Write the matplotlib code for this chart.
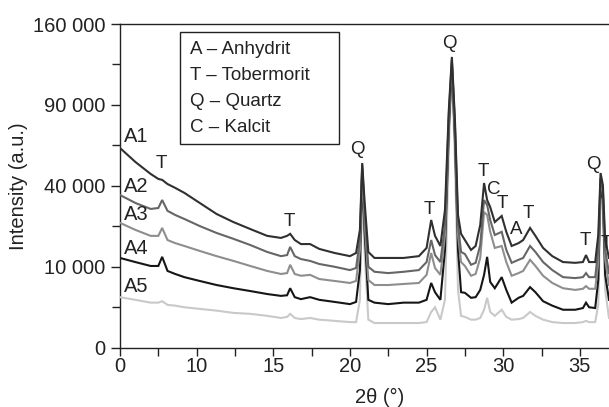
import numpy as np
import matplotlib
matplotlib.use("Agg")
import matplotlib.pyplot as plt
from matplotlib.patches import Rectangle

plt.rcParams['font.family'] = ['Liberation Sans', 'DejaVu Sans']

# 2theta grid (deg) shared by all patterns
two_theta = [5.0, 6.0, 7.0, 7.5, 7.75, 8.1, 8.6, 9.2, 10.2, 11.3, 12.4, 13.5, 14.6,
             15.5, 15.9, 16.1, 16.4, 16.8, 17.4, 18.0, 19.0, 20.0, 20.4, 20.65, 20.8,
             20.95, 21.2, 21.6, 22.5, 23.5, 24.5, 25.0, 25.3, 25.55, 25.9, 26.2, 26.45,
             26.65, 26.85, 27.05, 27.25, 27.5, 27.9, 28.2, 28.5, 28.75, 28.95, 29.15,
             29.45, 29.9, 30.2, 30.55, 31.0, 31.3, 31.75, 32.1, 32.6, 33.2, 33.9, 34.7,
             35.2, 35.4, 35.6, 36.0, 36.2, 36.35, 36.5, 36.65, 36.9]

A1 = [60900, 52700, 46100, 43500, 43000, 40900, 39000, 36600, 32000, 27300, 24100, 21500,
      19100, 18400, 19100, 19800, 17700, 16400, 16400, 14900, 13700, 12800, 13700, 21200,
      52100, 33300, 14000, 12300, 12300, 12300, 12800, 15200, 24900, 19100, 15800, 29000,
      86300, 129100, 79200, 26900, 19800, 17700, 14600, 15800, 23000, 41400, 33300, 30200,
      24100, 26500, 20500, 15800, 16700, 17700, 21900, 19100, 15200, 12800, 11200, 11000,
      11200, 13100, 11200, 11200, 19400, 46600, 40400, 17700, 12300]

A2 = [35600, 32000, 29400, 29800, 33300, 28600, 26900, 25300, 22600, 20100, 18100, 16100,
      14000, 12800, 13100, 15500, 12800, 12000, 11500, 10700, 10000, 9200, 9700, 17700,
      51000, 29000, 10000, 8800, 8500, 8800, 9200, 11200, 17700, 13100, 11200, 23000,
      82700, 126500, 75800, 23000, 14000, 13400, 10500, 11000, 16100, 33300, 31100, 24900,
      19400, 20500, 14600, 11000, 11800, 12300, 15800, 14000, 11200, 9200, 7600, 7400,
      7600, 8500, 7600, 7600, 14600, 44000, 38000, 14600, 8500]

A3 = [23800, 21200, 19100, 19100, 21900, 17700, 16700, 15800, 14300, 12800, 11500, 10200,
      9000, 8300, 8500, 10500, 8300, 7900, 8100, 7200, 6800, 6400, 6800, 14600,
      49300, 24900, 7000, 6000, 6000, 6200, 6400, 8100, 13700, 9700, 8100, 19400,
      79200, 124700, 72400, 19400, 11200, 10200, 7900, 8300, 12300, 28100, 26900, 20500,
      15200, 15800, 11200, 7900, 8500, 9000, 11800, 10200, 7900, 6400, 5400, 5100,
      5300, 5800, 5300, 5300, 11200, 43000, 37000, 11800, 6000]

A4 = [12300, 11200, 10200, 10200, 12600, 9000, 8300, 7600, 6800, 6000, 5400, 4900,
      4400, 4100, 4200, 5400, 3900, 3600, 3900, 3500, 3200, 2900, 3200, 9200,
      48200, 21200, 3500, 3100, 2900, 3100, 3100, 3500, 6400, 4700, 3500, 14600,
      72400, 122100, 65900, 14600, 4700, 4600, 3800, 3900, 5100, 8100, 12600, 6600,
      5400, 7600, 5100, 3100, 3800, 4100, 5600, 4700, 3300, 2700, 2200, 2200,
      2400, 3100, 2500, 2400, 7000, 40400, 33300, 8100, 3500]

A5 = [3900, 3500, 3100, 3100, 3300, 2800, 2700, 2500, 2300, 2100, 1850, 1750,
      1550, 1350, 1450, 1750, 1350, 1250, 1350, 1200, 1100, 1000, 1000, 3500,
      40400, 14600, 1200, 930, 930, 930, 930, 1000, 1950, 2500, 1200, 3500,
      59700, 117800, 53800, 5100, 1550, 1450, 1200, 1200, 1350, 2200, 3800, 1950,
      1550, 2200, 1450, 1200, 1250, 1350, 1950, 1550, 1200, 1000, 930, 930,
      1000, 1100, 1000, 1000, 2800, 33300, 29000, 5100, 1350]

series_names = ["A1", "A2", "A3", "A4", "A5"]
series = [A1, A2, A3, A4, A5]
series_colors = ["#303030", "#666666", "#8e8e8e", "#161616", "#c9c9c9"]
name_pos = [(5.26, 67800), (5.26, 39600), (5.26, 26900), (5.26, 15100), (5.26, 5800)]

peak_labels = ["T", "T", "Q", "T", "Q", "T", "C", "T", "A", "T", "T", "Q", "T"]
peak_x = [7.72, 16.04, 20.48, 25.18, 26.48, 28.70, 29.38, 29.96, 30.88, 31.63, 35.33, 35.88, 36.72]
peak_y = [51900, 24300, 59700, 29300, 141600, 47300, 38000, 31900, 21200, 27600, 17500, 51000, 16650]

legend_lines = ["A – Anhydrit", "T – Tobermorit", "Q – Quartz", "C – Kalcit"]

ytick_vals = [0, 10000, 40000, 90000, 160000]
ytick_labels = ["0", "10 000", "40 000", "90 000", "160 000"]
yminor_vals = [2500, 22500, 62500, 122500]
xtick_vals = [5, 10, 15, 20, 25, 30, 35]
xtick_labels = ["0", "10", "15", "20", "25", "30", "35"]
xminor_vals = [7.5, 12.5, 17.5, 22.5, 27.5, 32.5]

fig = plt.figure(figsize=(6.09, 4.07), dpi=100)
ax = fig.add_axes([120 / 609, (407 - 347.7) / 407, 489 / 609, 323.7 / 407])

ax.set_yscale('function', functions=(lambda v: np.sqrt(np.clip(v, 0, None)), np.square))

for i in range(len(series) - 1, -1, -1):
    ax.plot(two_theta, series[i], color=series_colors[i], lw=1.5, zorder=3 + (5 - i),
            solid_joinstyle='miter')

ax.set_xlim(5, 36.9)
ax.set_ylim(0, 160000)

ax.set_yticks(ytick_vals)
ax.set_yticklabels(ytick_labels)
ax.set_yticks(yminor_vals, minor=True)
ax.set_xticks(xtick_vals)
ax.set_xticklabels(xtick_labels)
ax.set_xticks(xminor_vals, minor=True)

spine_c = "#222222"
for s in ["left", "bottom", "top"]:
    ax.spines[s].set_color(spine_c)
    ax.spines[s].set_linewidth(1.0)
ax.spines["right"].set_visible(False)

ax.tick_params(axis='y', which='major', direction='out', length=6.5, width=1.0,
               color=spine_c, labelsize=14.5, pad=4, labelcolor="#222222")
ax.tick_params(axis='y', which='minor', direction='out', length=6, width=1.0, color=spine_c)
ax.tick_params(axis='x', which='both', direction='out', length=5.5, width=1.0,
               color=spine_c, labelsize=14.5, pad=1.5, labelcolor="#222222")

ax.set_ylabel("Intensity (a.u.)", fontsize=14.5, color="#222222")
ax.yaxis.set_label_coords(-0.188, 0.5)
ax.set_xlabel("2θ (°)", fontsize=14.5, color="#222222", va='center')
ax.xaxis.set_label_coords(0.53, -0.153)

for name, (nx, ny) in zip(series_names, name_pos):
    ax.text(nx, ny, name, fontsize=14.5, ha='left', va='center', color="#222222", zorder=10)

for lab, px, py in zip(peak_labels, peak_x, peak_y):
    ax.text(px, py, lab, fontsize=13.5, ha='center', va='center', color="#222222",
            zorder=10, clip_on=False)

bx0 = (180 - 120) / 489
by0 = (347.7 - 144) / 323.7
bw = (339 - 180) / 489
bh = (144 - 31.7) / 323.7
ax.add_patch(Rectangle((bx0, by0), bw, bh, transform=ax.transAxes, fill=True,
                       facecolor='white', edgecolor=spine_c, lw=1.0, zorder=12))
row_y = [50, 76, 102, 128]
for txt, ry in zip(legend_lines, row_y):
    ax.text((190 - 120) / 489, (347.7 - ry) / 323.7, txt, transform=ax.transAxes,
            fontsize=13.5, ha='left', va='center', color="#222222", zorder=13)

fig.savefig("out.png", dpi=100)
